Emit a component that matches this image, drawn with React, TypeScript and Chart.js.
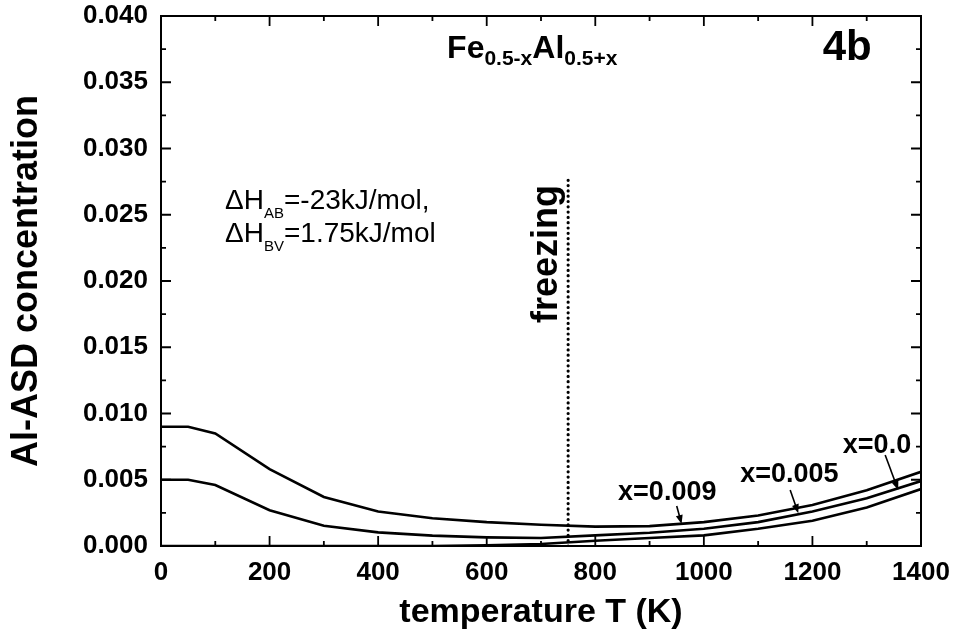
import React, { useEffect, useRef } from "react";
import { Chart, registerables } from "chart.js";

Chart.register(...registerables);

const FONT = "'Liberation Sans', Arial, Helvetica, sans-serif";

// temperature T (K)
const temperatures = [0, 50, 100, 200, 300, 400, 500, 600, 700, 800, 900, 1000, 1100, 1200, 1300, 1400];
// Al-ASD concentration for each composition
const asdX0009 = [0.009, 0.009, 0.0085, 0.0058, 0.0037, 0.0026, 0.0021, 0.0018, 0.0016, 0.00146, 0.0015, 0.0018, 0.0023, 0.0031, 0.0042, 0.0056];
const asdX0005 = [0.005, 0.005, 0.0046, 0.0027, 0.00153, 0.00103, 0.00078, 0.00065, 0.0006, 0.0008, 0.001, 0.0013, 0.0018, 0.0026, 0.0036, 0.0049];
const asdX0000 = [0, 0, 0, 0, 0, 0, 0, 0.00005, 0.00015, 0.0004, 0.0006, 0.0008, 0.0013, 0.0019, 0.0029, 0.0043];

// freezing line
const freezingT = 750;
const freezingRange = [0, 0.0278];

// axis ticks
const xTickStep = 200;
const xMinorStep = 100;
const yTickStep = 0.005;
const yMinorStep = 0.0025;

// curve labels: [text, labelT, labelY, arrowStartT, arrowStartY, tipT, tipY]
const curveLabels: [string, number, number, number, number, number, number][] = [
  ["x=0.009", 842, 0.00347, 950, 0.00302, 959, 0.00166],
  ["x=0.005", 1067, 0.00485, 1159, 0.00423, 1174, 0.00247],
  ["x=0.0", 1256, 0.00702, 1334, 0.00687, 1358, 0.00423],
];

const toPoints = (ys: number[]) => temperatures.map((t, i) => ({ x: t, y: ys[i] }));

type Seg = { t: string; size: number; weight: string; dy: number };

function drawSegs(ctx: CanvasRenderingContext2D, x: number, y: number, segs: Seg[]) {
  let cx = x;
  for (const s of segs) {
    ctx.font = `${s.weight} ${s.size}px ${FONT}`;
    ctx.fillText(s.t, cx, y + s.dy);
    cx += ctx.measureText(s.t).width;
  }
}

const framePlugin = {
  id: "frameTicks",
  afterDatasetsDraw(chart: any) {
    const { ctx, chartArea: a, scales } = chart;
    const xs = scales.x;
    const ys = scales.y;
    ctx.save();
    ctx.strokeStyle = "#000";
    ctx.lineWidth = 2;
    ctx.strokeRect(a.left, a.top, a.right - a.left, a.bottom - a.top);
    ctx.lineWidth = 1.8;
    ctx.beginPath();
    for (let t = xMinorStep; t < 1400; t += xMinorStep) {
      const major = t % xTickStep === 0;
      const len = major ? 10 : 5;
      const px = xs.getPixelForValue(t);
      ctx.moveTo(px, a.bottom);
      ctx.lineTo(px, a.bottom - len);
      ctx.moveTo(px, a.top);
      ctx.lineTo(px, a.top + len);
    }
    for (let k = 1; k < 16; k++) {
      const v = k * yMinorStep;
      const major = k % 2 === 0;
      const len = major ? 10 : 5;
      const py = ys.getPixelForValue(v);
      ctx.moveTo(a.left, py);
      ctx.lineTo(a.left + len, py);
      ctx.moveTo(a.right, py);
      ctx.lineTo(a.right - len, py);
    }
    ctx.stroke();

    const X = (t: number) => xs.getPixelForValue(t);
    const Y = (v: number) => ys.getPixelForValue(v);
    ctx.fillStyle = "#000";
    ctx.textBaseline = "alphabetic";
    ctx.textAlign = "left";

    // title formula
    drawSegs(ctx, X(527), Y(0.03683), [
      { t: "Fe", size: 32, weight: "bold", dy: 0 },
      { t: "0.5-x", size: 21, weight: "bold", dy: 7 },
      { t: "Al", size: 32, weight: "bold", dy: 0 },
      { t: "0.5+x", size: 21, weight: "bold", dy: 7 },
    ]);
    // panel label
    ctx.font = `bold 42px ${FONT}`;
    ctx.fillText("4b", X(1219), Y(0.03668));

    // enthalpies
    drawSegs(ctx, X(118), Y(0.02543), [
      { t: "\u0394H", size: 28, weight: "normal", dy: 0 },
      { t: "AB", size: 15, weight: "normal", dy: 9 },
      { t: "=-23kJ/mol,", size: 28, weight: "normal", dy: 0 },
    ]);
    drawSegs(ctx, X(118), Y(0.02297), [
      { t: "\u0394H", size: 28, weight: "normal", dy: 0 },
      { t: "BV", size: 15, weight: "normal", dy: 9 },
      { t: "=1.75kJ/mol", size: 28, weight: "normal", dy: 0 },
    ]);

    // freezing label
    ctx.save();
    ctx.translate(X(729.5), Y(0.01683));
    ctx.rotate(-Math.PI / 2);
    ctx.font = `bold 36px ${FONT}`;
    ctx.fillText("freezing", 0, 0);
    ctx.restore();

    // curve labels + arrows
    for (const [txt, lt, ly, st, sy, tt, ty] of curveLabels) {
      ctx.font = `bold 27px ${FONT}`;
      ctx.fillText(txt, X(lt), Y(ly));
      const x0 = X(st), y0 = Y(sy), x1 = X(tt), y1 = Y(ty);
      const ang = Math.atan2(y1 - y0, x1 - x0);
      const hl = 9, hw = 3.5;
      ctx.lineWidth = 1.6;
      ctx.beginPath();
      ctx.moveTo(x0, y0);
      ctx.lineTo(x1 - Math.cos(ang) * hl * 0.8, y1 - Math.sin(ang) * hl * 0.8);
      ctx.stroke();
      ctx.beginPath();
      ctx.moveTo(x1, y1);
      ctx.lineTo(x1 - Math.cos(ang) * hl - Math.sin(ang) * hw, y1 - Math.sin(ang) * hl + Math.cos(ang) * hw);
      ctx.lineTo(x1 - Math.cos(ang) * hl + Math.sin(ang) * hw, y1 - Math.sin(ang) * hl - Math.cos(ang) * hw);
      ctx.closePath();
      ctx.fill();
    }
    ctx.restore();
  },
};

export default function App() {
  const ref = useRef<HTMLCanvasElement | null>(null);
  useEffect(() => {
    if (!ref.current) return;
    const lineStyle = {
      borderColor: "#000",
      borderWidth: 2.6,
      pointRadius: 0,
      tension: 0,
      fill: false,
    };
    const chart = new Chart(ref.current, {
      type: "line",
      data: {
        datasets: [
          {
            label: "freezing",
            data: freezingRange.map((v) => ({ x: freezingT, y: v })),
            borderColor: "#000",
            borderWidth: 3.2,
            borderDash: [0, 5.3],
            borderCapStyle: "round",
            pointRadius: 0,
            fill: false,
          } as any,
          { label: "x=0.009", data: toPoints(asdX0009), ...lineStyle },
          { label: "x=0.005", data: toPoints(asdX0005), ...lineStyle },
          { label: "x=0.0", data: toPoints(asdX0000), ...lineStyle },
        ],
      },
      options: {
        animation: false,
        responsive: false,
        layout: { padding: { top: 16, right: 41, left: 0, bottom: 0 } },
        plugins: { legend: { display: false }, tooltip: { enabled: false } },
        scales: {
          x: {
            type: "linear",
            min: 0,
            max: 1400,
            grid: { display: false, drawTicks: false },
            border: { display: false },
            ticks: {
              stepSize: xTickStep,
              autoSkip: false,
              maxRotation: 0,
              padding: 11,
              color: "#000",
              font: { family: FONT, size: 26, weight: "bold" },
              callback: (v: any) => String(v),
            },
            title: {
              display: true,
              text: "temperature T (K)",
              color: "#000",
              font: { family: FONT, size: 34, weight: "bold" },
              padding: { top: 0, bottom: 5 },
            },
            afterFit: (s: any) => {
              s.height = 92;
            },
          },
          y: {
            type: "linear",
            min: 0,
            max: 0.04,
            grid: { display: false, drawTicks: false },
            border: { display: false },
            ticks: {
              stepSize: yTickStep,
              autoSkip: false,
              padding: 13,
              color: "#000",
              font: { family: FONT, size: 26, weight: "bold" },
              callback: (v: any) => Number(v).toFixed(3),
            },
            title: {
              display: true,
              text: "Al-ASD concentration",
              color: "#000",
              font: { family: FONT, size: 36, weight: "bold" },
              padding: { top: 5, bottom: 0 },
            },
            afterFit: (s: any) => {
              s.width = 161;
              s.paddingTop = 0;
              s.paddingBottom = 0;
            },
          },
        },
      } as any,
      plugins: [framePlugin],
    });
    return () => chart.destroy();
  }, []);
  return (
    <div style={{ position: "absolute", left: 0, top: 0, width: 962, height: 638, background: "#fff" }}>
      <canvas ref={ref} width={962} height={638} style={{ display: "block" }} />
    </div>
  );
}
